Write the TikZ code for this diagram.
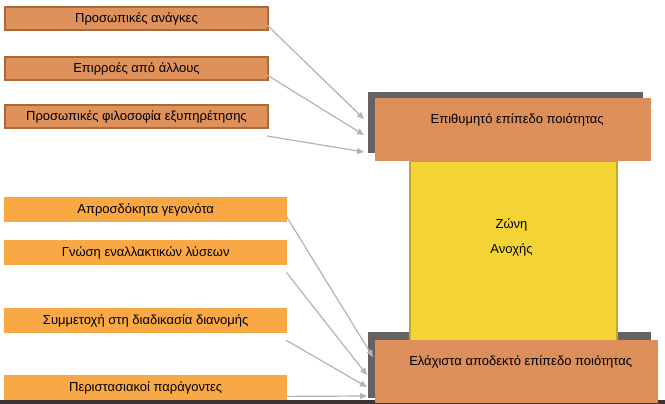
\documentclass[tikz,border=0pt]{standalone}
\usepackage{fontspec}
\setmainfont{Liberation Sans}
\usetikzlibrary{calc,arrows.meta}
\definecolor{tanfill}{HTML}{DE915B}
\definecolor{tanline}{HTML}{A9693B}
\definecolor{lightor}{HTML}{F9A846}
\definecolor{bigor}{HTML}{DC8F5B}
\definecolor{shadowgray}{HTML}{666262}
\definecolor{yellowfill}{HTML}{F4D334}
\definecolor{yellowline}{HTML}{C6A62E}
\definecolor{darkline}{HTML}{3E3232}
\definecolor{arrowgray}{HTML}{B3B3B3}
\tikzset{
  x=1pt, y=-1pt,
  topbox/.style={draw=tanline, line width=2pt, fill=tanfill, anchor=north west, inner sep=0pt,
    minimum width=263pt, minimum height=23pt, font=\fontsize{13}{15}\selectfont},
  lowbox/.style={fill=lightor, anchor=north west, inner sep=0pt,
    minimum width=283pt, minimum height=25pt, font=\fontsize{13}{15}\selectfont},
  plainrect/.style={anchor=north west, inner sep=0pt},
  lbl/.style={font=\fontsize{13}{15}\selectfont, inner sep=0pt},
  conn/.style={draw=arrowgray, line width=1.2pt, -{Triangle[length=7pt,width=6pt]}}
}
\begin{document}
\begin{tikzpicture}
\useasboundingbox (0,0) rectangle (665,404);
% bottom dark line
\fill[darkline] (0,400) rectangle (665,404);
% left boxes
\node[topbox] (b1) at (4,6) {Προσωπικές ανάγκες};
\node[topbox] (b2) at (4,56) {Επιρροές από άλλους};
\node[topbox] (b3) at (4,104) {Προσωπικές φιλοσοφία εξυπηρέτησης};
\node[lowbox] (b4) at (4,197) {Απροσδόκητα γεγονότα};
\node[lowbox] (b5) at (4,240) {Γνώση εναλλακτικών λύσεων};
\node[lowbox] (b6) at (4,308) {Συμμετοχή στη διαδικασία διανομής};
\node[lowbox] (b7) at (4,375) {Περιστασιακοί παράγοντες};
% right structure
\node[plainrect, fill=shadowgray, minimum width=275pt, minimum height=61pt] (tsh) at (368,92) {};
\node[plainrect, fill=shadowgray, minimum width=283pt, minimum height=66pt] (bsh) at (368,332) {};
\node[plainrect, fill=yellowfill, draw=yellowline, line width=2pt, minimum width=207pt, minimum height=182pt] (zone) at (409,160) {};
\node[plainrect, fill=bigor, minimum width=276pt, minimum height=63pt] (top) at (375,98) {};
\node[plainrect, fill=bigor, minimum width=283pt, minimum height=63pt] (bot) at (375,340) {};
\node[lbl] (toptxt) at ($(top.north)+(4,22)$) {Επιθυμητό επίπεδο ποιότητας};
\node[lbl] (bottxt) at ($(bot.north)+(4,22)$) {Ελάχιστα αποδεκτό επίπεδο ποιότητας};
\node[lbl] (z1) at ($(zone.center)+(-2,-27)$) {Ζώνη};
\node[lbl] (z2) at ($(zone.center)+(-2,-2)$) {Ανοχής};
% connectors
\draw[conn] ($(b1.south east)+(-2,-6)$) -- ($(tsh.north west)+(-4,27)$);
\draw[conn] ($(b2.south east)+(-2,-6)$) -- ($(tsh.north west)+(-4,43)$);
\draw[conn] ($(b3.south east)+(-2,7)$) -- ($(tsh.north west)+(-4,60)$);
\draw[conn] ($(b4.south east)+(-1,-6)$) -- ($(bsh.north west)+(5,25)$);
\draw[conn] ($(b5.south east)+(-1,7)$) -- ($(bsh.north west)+(-1,43)$);
\draw[conn] ($(b6.south east)+(-1,7)$) -- ($(bsh.north west)+(-1,55)$);
\draw[conn] ($(b7.south east)+(-1,-4)$) -- ($(bsh.north west)+(-1,64)$);
\end{tikzpicture}
\end{document}
